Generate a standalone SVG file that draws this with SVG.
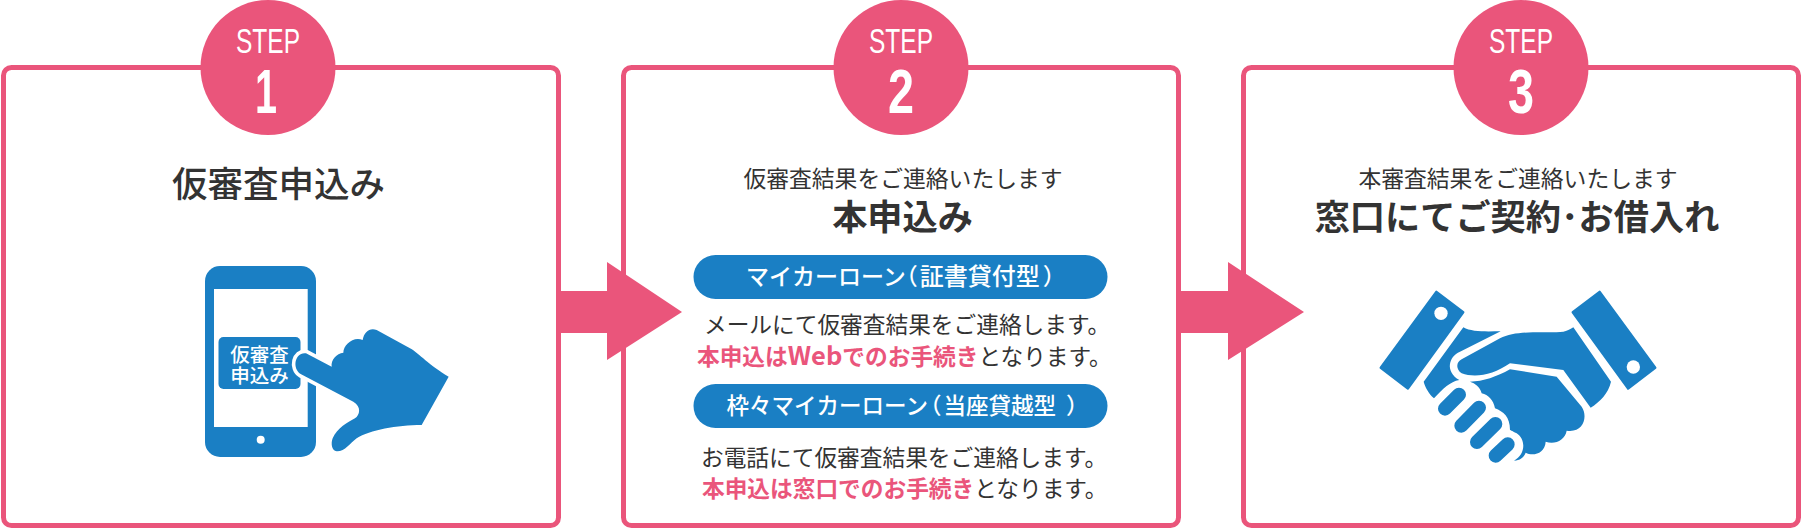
<svg xmlns="http://www.w3.org/2000/svg" width="1802" height="529" viewBox="0 0 1802 529">
<style>
text{font-family:"Noto Sans CJK JP","Noto Sans",sans-serif;text-anchor:middle;fill:#333}
.box{fill:#fff;stroke:#ea557b;stroke-width:5}
.circ{fill:#ea557b}
.pink{fill:#ea557b}
.blue{fill:#1a7fc4}
text.step{font-family:"Liberation Sans",sans-serif;fill:#fff;font-size:35px}
text.num{font-family:"Liberation Sans",sans-serif;font-weight:700;fill:#fff;font-size:63px}
.h1{font-size:35.500px;font-weight:500}
.h1b{font-size:35.200px;font-weight:700}
.sub{font-size:22.800px}
.body{font-size:22.700px;text-anchor:start}
text.pilltxt{font-weight:500;fill:#fff;text-anchor:start}
text .em{fill:#ea557b;font-weight:700}
</style>
<rect width="1802" height="529" fill="#fff"/>
<g id="step1">
<rect class="box" x="3.500" y="67.500" width="555" height="458" rx="8"/>
<circle class="circ" cx="268" cy="67.500" r="67.500"/>
<text class="step" x="268" y="53" textLength="64" lengthAdjust="spacingAndGlyphs">STEP</text>
<text class="num" x="266" y="113" textLength="22" lengthAdjust="spacingAndGlyphs">1</text>
<text class="h1" x="278.500" y="197">仮審査申込み</text>
<g class="blue">
<rect x="205" y="266" width="111" height="191" rx="15"/>
<rect x="214" y="289" width="93.700" height="138" fill="#fff"/>
<circle cx="260.700" cy="439.700" r="4" fill="#fff"/>
<rect x="218.500" y="337" width="82" height="52" rx="5"/>
</g>
<text x="259.500" y="361.500" font-size="19.500" font-weight="500" style="fill:#fff">仮審査</text>
<text x="259.500" y="383" font-size="19.500" font-weight="500" style="fill:#fff">申込み</text>
<g transform="translate(180 250) scale(.33333)">
<path id="hand" class="blue" stroke="#fff" stroke-width="22" paint-order="stroke" stroke-linejoin="round" d="M378 310 L455 350 C452 330 470 310 490 308 C490 285 520 258 548 270 C552 245 570 232 590 240 L690 295 C720 312 745 345 806 380 L725 525 C650 525 570 540 530 565 C510 580 495 605 470 604 C455 602 452 580 458 565 C470 535 505 515 525 505 C540 495 545 470 520 455 L362 372 C335 355 345 305 378 310Z"/>
</g>
</g>
<g id="step2">
<rect class="box" x="623.500" y="67.500" width="555" height="458" rx="8"/>
<circle class="circ" cx="901" cy="67.500" r="67.500"/>
<text class="step" x="901" y="53" textLength="64" lengthAdjust="spacingAndGlyphs">STEP</text>
<text class="num" x="901" y="113" textLength="26" lengthAdjust="spacingAndGlyphs">2</text>
<text class="sub" x="903" y="187">仮審査結果をご連絡いたします</text>
<text class="h1b" x="902.500" y="230">本申込み</text>
<rect class="blue" x="693.500" y="255" width="414" height="44" rx="22"/>
<text class="pilltxt" x="746" y="285" font-size="23">マイカーローン<tspan dx="-11">（</tspan><tspan dx="2" font-size="24">証書貸付型</tspan><tspan dx="3">）</tspan></text>
<text class="body" x="704" y="333">メールにて仮審査結果をご連絡します。</text>
<text class="body" x="697" y="365"><tspan class="em">本申込は<tspan font-size="25.500">Web</tspan>でのお手続き</tspan>となります。</text>
<rect class="blue" x="693.500" y="384" width="414" height="44" rx="22"/>
<text class="pilltxt" x="726.500" y="414" font-size="22.500">枠々マイカーローン<tspan dx="-9">（</tspan><tspan dx="2">当座貸越型</tspan><tspan dx="10">）</tspan></text>
<text class="body" x="701" y="466">お電話にて仮審査結果をご連絡します。</text>
<text class="body" x="702" y="497"><tspan class="em">本申込は窓口でのお手続き</tspan>となります。</text>
</g>
<g id="step3">
<rect class="box" x="1243.500" y="67.500" width="555" height="458" rx="8"/>
<circle class="circ" cx="1521" cy="67.500" r="67.500"/>
<text class="step" x="1521" y="53" textLength="64" lengthAdjust="spacingAndGlyphs">STEP</text>
<text class="num" x="1521" y="113" textLength="26" lengthAdjust="spacingAndGlyphs">3</text>
<text class="sub" x="1518" y="187">本審査結果をご連絡いたします</text>
<text class="h1b" x="1517" y="230">窓口にてご契約･お借入れ</text>
<g class="blue" transform="translate(1360 270) scale(.33333)">
<path d="M230 63 L312 125 L143 358 L60 295Z" stroke="#1a7fc4" stroke-width="8" stroke-linejoin="round" transform="translate(186 209) scale(.98) translate(-186 -209)"/>
<circle cx="243" cy="130" r="20" fill="#fff"/>
<path d="M718 63 L888 295 L805 358 L636 125Z" stroke="#1a7fc4" stroke-width="8" stroke-linejoin="round" transform="translate(762 209) scale(.98) translate(-762 -209)"/>
<circle cx="820" cy="291" r="20" fill="#fff"/>
<path d="M310 172 C335 187 380 184 422 184 L300 245 C265 260 255 305 298 330 C270 335 250 355 222 385 C205 370 195 350 191 335Z"/>
<path d="M640 172 L753 335 C745 370 720 395 692 413 L610 300 L450 280 C400 315 345 325 305 310 C285 295 290 275 305 268 L420 205 C470 178 560 190 610 185 C620 183 630 178 640 172Z"/>
<path d="M330 335 C370 335 410 320 450 298 L590 320 L665 410 C685 440 670 490 620 482 C615 510 585 525 557 515 C555 550 520 560 497 548 C490 565 480 570 462 572 C495 555 500 510 470 490 C455 482 450 480 450 480 C450 440 430 425 405 415 C400 390 385 375 365 370 C360 350 345 340 330 335Z"/>
<g fill="none" stroke="#1a7fc4" stroke-width="42" stroke-linecap="round">
<path d="M255 416 L297 374"/>
<path d="M304 467 L357 413"/>
<path d="M351 516 L406 462"/>
<path d="M407 557 L443 523"/>
</g>
</g>
</g>
<g id="connectors">
<path class="pink" d="M558 291H607V262L682 312L607 360V333H558Z"/>
<path class="pink" d="M1180 291H1228V262L1304 312L1228 360V333H1180Z"/>
</g>
</svg>
